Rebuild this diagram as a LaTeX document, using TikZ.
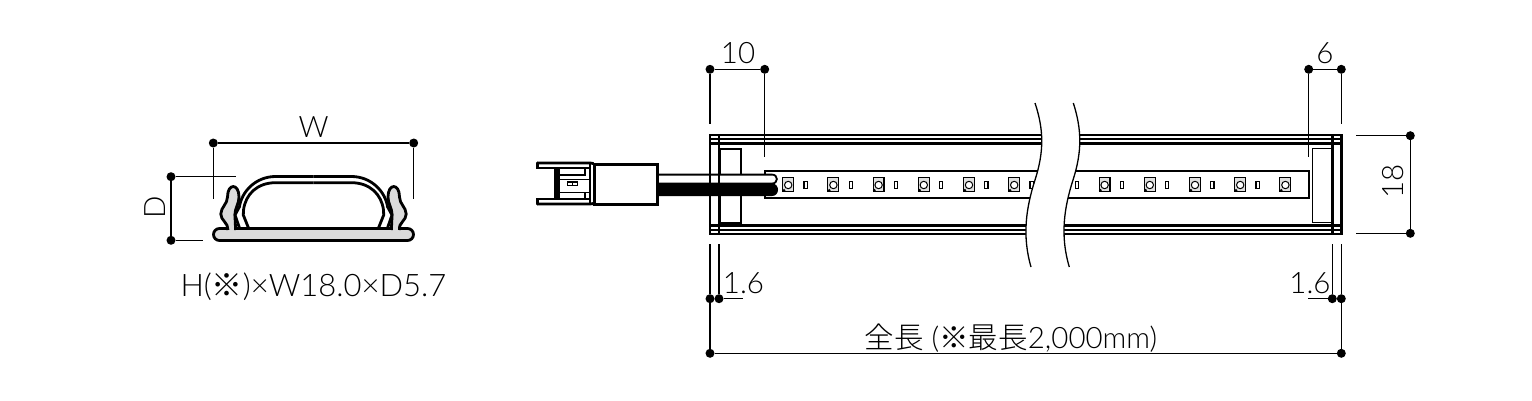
\documentclass[tikz,border=0pt]{standalone}
\usepackage{fontspec}
\setmainfont{Lato Light}
\newfontfamily\cjk{Noto Sans CJK JP Light}
\tikzset{
  dimdot/.style={shape=circle, fill=black, inner sep=0pt, minimum size=9pt},
  dimline/.style={line width=1.3pt, draw=black},
  dimtext/.style={inner sep=0pt, font=\fontsize{29.5}{30}\selectfont, text=black},
  thickline/.style={line width=2.8pt, draw=black},
  thinline/.style={line width=1.3pt, draw=black},
  boxline/.style={line width=2pt, draw=black},
  ledbox/.style={line width=1.1pt, draw=black, fill=black!12},
}
\begin{document}
\begin{tikzpicture}[x=1pt, y=-1pt]
\useasboundingbox (0,0) rectangle (1532,400);
\node[dimdot] (wL) at (213.3,143) {};
\node[dimdot] (wR) at (413.7,143) {};
\node[dimdot] (dT) at (171,176.7) {};
\node[dimdot] (dB) at (171,240.3) {};
\coordinate (wLe) at (213.3,199);
\coordinate (wRe) at (413.7,199);
\coordinate (dTe) at (236,176.7);
\coordinate (dBe) at (202.7,240.3);
\draw[dimline] (wL) -- (wR);
\draw[dimline] (wL) -- (wLe);
\draw[dimline] (wR) -- (wRe);
\draw[dimline] (dT) -- (dB);
\draw[dimline] (dT) -- (dTe);
\draw[dimline] (dB) -- (dBe);
\node[dimtext] (wT) at (313.5,127) {W};
\node[dimtext, rotate=90] (dL) at (155,207.5) {D};
\node[dimtext, font=\fontsize{31}{31}\selectfont] (sizeT) at (313.5,287) {H({\cjk ※})×W18.0×D5.7};
\draw[thickline, fill=black!14, rounded corners=6pt] (213.5,228.5) rectangle (413.5,240.5);
\foreach \s in {1,-1} {
\begin{scope}[shift={(313.5,0)}, xscale=\s]
\draw[thickline, fill=black!14] (-85.5,230) .. controls (-85,223) and (-93,220) .. (-92.7,214) .. controls (-92.5,207) and (-86,204) .. (-86,197) .. controls (-86,183) and (-74.5,183) .. (-74.5,197) .. controls (-74.5,204) and (-78.5,208) .. (-78.5,214) .. controls (-78.5,220) and (-78,224) .. (-78,230);
\fill[black!14] (-84,226) rectangle (-79.5,231.5);
\draw[thickline] (-74,228) -- (-78.5,215) -- (-74,206.7) .. controls (-72,192) and (-58,176.5) .. (-38,176.5) -- (0,176.5);
\draw[thickline] (-65,228) -- (-70.2,215) -- (-70,210) .. controls (-68,194) and (-56,182.7) .. (-38,182.7) -- (0,182.7);
\end{scope}
}
\draw[thickline] (238,228.5) -- (389,228.5);
\draw[boxline] (764.5,170.7) -- (1309,170.7) -- (1309,198) -- (764.5,198) -- cycle;
\foreach \k in {0,...,11} {
\draw[ledbox] (782.7+45.2*\k,177.5) rectangle (793.6+45.2*\k,191.7);
\draw[line width=1pt, fill=white] (788.2+45.2*\k,185) circle (3.7);
\fill (784+45.2*\k,190.3) circle (1.5);
}
\foreach \k in {0,...,10} {
\draw[line width=1.1pt, fill=white] (804+45.2*\k,181.3) rectangle (807.2+45.2*\k,188.7);
}
\node[draw=black, line width=2pt, fill=white, inner sep=0pt, minimum width=20.5pt, minimum height=74pt, anchor=north west] (capL) at (719.3,148) {};
\node[draw=black, line width=1.7pt, fill=white, inner sep=0pt, minimum width=21pt, minimum height=74pt, anchor=north west] (capR) at (1311.7,147.7) {};
\draw[line width=1.8pt, fill=white] (656,174.6) -- (772,174.6) .. controls (778.5,174.6) and (778.5,183.5) .. (772,183.5) -- (656,183.5);
\node[draw=black, line width=2.4pt, fill=white, inner sep=0pt, minimum width=63pt, minimum height=40pt, anchor=north west] (plug) at (593.3,163.3) {};
\draw[thickline] (710,135) -- (1341.3,135) -- (1341.3,234) -- (710,234) -- cycle;
\draw[thinline] (710,139) -- (1341.3,139);
\draw[thickline] (710,143.5) -- (1341.3,143.5);
\draw[thickline] (710,225.7) -- (1341.3,225.7);
\draw[thinline] (710,230) -- (1341.3,230);
\draw[thickline] (719,135) -- (719,234);
\draw[thickline] (1332.7,135) -- (1332.7,234);
\fill[black] (656,183.5) -- (772,183.5) .. controls (780,183.5) and (780,196) .. (772,196) -- (656,196) -- cycle;
\draw[thickline, line cap=round] (537.5,163) -- (590,163) -- (593.3,163.5);
\draw[thickline, line cap=round] (537.5,204) -- (590,204) -- (593.3,203.5);
\draw[thickline, line cap=round] (537.5,163) -- (537.5,168) -- (555.3,168) -- (555.3,199) -- (537.5,199) -- (537.5,204);
\draw[thickline] (558.5,168) -- (558.5,199);
\draw[thinline] (555.3,168) -- (590,168);
\draw[thinline] (555.3,199) -- (590,199);
\draw[thinline] (559,175) -- (585,175) -- (585,168);
\draw[thinline] (585,192.7) -- (585,199);
\draw[thinline] (590,164) -- (590,203);
\draw[thinline] (559,179.3) -- (590,179.3);
\draw[thinline] (567.3,182) rectangle (577.7,185.3);
\draw[thinline] (572.5,182) -- (572.5,185.3);
\draw[thinline] (559,192.7) -- (590,192.7);
\fill[white] (1035,103) .. controls (1044,130) and (1044,152) .. (1035,180) .. controls (1026,208) and (1022,236) .. (1031,267) -- (1069.3,267) .. controls (1060,236) and (1064,208) .. (1073,180) .. controls (1082,152) and (1082,130) .. (1073.3,103) -- cycle;
\draw[thinline] (1035,103) .. controls (1044,130) and (1044,152) .. (1035,180) .. controls (1026,208) and (1022,236) .. (1031,267);
\draw[thinline] (1073.3,103) .. controls (1082,130) and (1082,152) .. (1073,180) .. controls (1064,208) and (1060,236) .. (1069.3,267);
\node[dimdot] (aL) at (710,69.3) {};
\node[dimdot] (aR) at (764.7,69.3) {};
\node[dimdot] (bL) at (1308.7,69.3) {};
\node[dimdot] (bR) at (1341.3,69.3) {};
\node[dimdot] (hT) at (1410.3,135.7) {};
\node[dimdot] (hB) at (1410.3,233.3) {};
\node[dimdot] (cL) at (710,298.7) {};
\node[dimdot] (cR) at (719,298.7) {};
\node[dimdot] (eL) at (1332.3,298.7) {};
\node[dimdot] (eR) at (1341.3,298.7) {};
\node[dimdot] (lL) at (710,353.3) {};
\node[dimdot] (lR) at (1341.3,353.3) {};
\coordinate (aLe) at (710,124.3);
\coordinate (aRe) at (764.7,156.7);
\coordinate (bLe) at (1308.7,156.7);
\coordinate (bRe) at (1341.3,124);
\coordinate (hTe) at (1355.7,135.7);
\coordinate (hBe) at (1355.7,233.3);
\coordinate (cLe) at (710,244);
\coordinate (cRe) at (719,244);
\coordinate (cRf) at (742.7,298.7);
\coordinate (eLe) at (1332.3,244);
\coordinate (eRe) at (1341.3,244);
\coordinate (eLf) at (1308.3,298.7);
\draw[dimline] (aL) -- (aR);
\draw[dimline] (aL) -- (aLe);
\draw[dimline] (aR) -- (aRe);
\draw[dimline] (bL) -- (bR);
\draw[dimline] (bL) -- (bLe);
\draw[dimline] (bR) -- (bRe);
\draw[dimline] (hT) -- (hB);
\draw[dimline] (hT) -- (hTe);
\draw[dimline] (hB) -- (hBe);
\draw[dimline] (cL) -- (cLe);
\draw[dimline] (cR) -- (cRe);
\draw[dimline] (cR) -- (cRf);
\draw[dimline] (eL) -- (eLe);
\draw[dimline] (eR) -- (eRe);
\draw[dimline] (eL) -- (eLf);
\draw[dimline] (cL) -- (lL);
\draw[dimline] (eR) -- (lR);
\draw[dimline] (lL) -- (lR);
\node[dimtext] (aT) at (738,53.5) {10};
\node[dimtext] (bT) at (1325,53.5) {6};
\node[dimtext, rotate=90] (hL) at (1393,181.7) {18};
\node[dimtext] (cT) at (743.5,283.5) {1.6};
\node[dimtext] (eT) at (1310,283.5) {1.6};
\node[dimtext] (lT) at (1011,338) {{\cjk 全長} ({\cjk ※最長}2,000mm)};
\end{tikzpicture}
\end{document}
